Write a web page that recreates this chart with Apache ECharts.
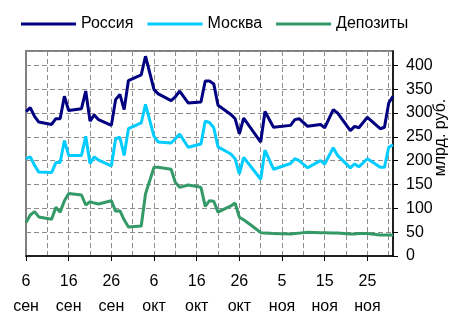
<!DOCTYPE html>
<html>
<head>
<meta charset="utf-8">
<script src="https://cdn.jsdelivr.net/npm/echarts@6/dist/echarts.min.js"></script>
<style>
  html, body { margin: 0; padding: 0; background: #ffffff; }
  #chart { width: 466px; height: 313px; }
</style>
</head>
<body>
<div id="chart"></div>
<script>
/* day offset from 6 sep */
var days = [0,1,2,3,6,7,8,9,10,13,14,15,16,17,20,21,22,23,24,27,28,30,31,34,35,36,38,41,42,43,44,45,48,49,50,51,53,55,56,58,62,63,64,66,69,70,72,73,76,77,78,80,83,84,85,86];
var russia = [303,311,293,281,276,288,288,335,305,309,346,283,296,286,274,328,339,307,368,380,419,349,340,326,334,346,321,323,367,367,361,316,297,288,256,289,264,239,303,270,274,286,288,272,276,269,307,300,263,272,269,291,267,270,321,335];
var moscow = [204,208,190,176,175,196,196,242,211,211,251,194,208,201,189,246,249,211,267,279,318,251,239,237,246,256,228,235,283,280,269,229,214,204,172,207,184,161,222,182,194,204,200,185,200,193,227,211,185,193,187,204,186,186,228,233];
var deposits = [70,86,93,82,77,102,92,116,131,128,107,114,111,109,116,94,95,76,61,63,130,186,186,182,154,144,149,144,104,116,115,92,105,111,81,76,63,49,48,47,46,47,48,50,49,49,48,48,46,46,47,47,44,44,44,44];

var tickLabels = ['6\nсен','16\nсен','26\nсен','6\nокт','16\nокт','26\nокт','5\nноя','15\nноя','25\nноя'];
var lastDay = 86;

var font = 'Liberation Sans, Arial, sans-serif';

function pairs(vals)
{
    var out = [];
    for (var i = 0; i < days.length; i++) {
        out.push([days[i], vals[i]]);
    }
    return out;
}

var cats = [];
for (var d = 0; d <= lastDay; d++) {
    cats.push(String(d));
}

var chart = document.getElementById('chart');
var myChart = echarts.init(chart);

var option = {
    animation: false,
    legend: {
        left: 16,
        top: 11,
        icon: 'rect',
        itemWidth: 55,
        itemHeight: 3,
        itemGap: 14,
        textStyle: { fontFamily: font, fontSize: 16, color: '#000' },
        data: ['Россия', 'Москва', 'Депозиты']
    },
    grid: {
        left: 26, right: 73, top: 51, bottom: 57,
        outerBoundsMode: 'none',
        containLabel: false,
        show: true,
        borderColor: '#808080',
        borderWidth: 2,
        backgroundColor: '#fff'
    },
    xAxis: {
        type: 'category',
        boundaryGap: false,
        data: cats,
        axisLine: { lineStyle: { color: '#000', width: 1.5 } },
        axisTick: {
            length: 5,
            interval: function (i) { return i % 10 === 0; },
            lineStyle: { color: '#000' }
        },
        axisLabel: {
            interval: function (i) { return i % 10 === 0; },
            formatter: function (v, i) { return tickLabels[i / 10] || ''; },
            fontFamily: font,
            fontSize: 16,
            color: '#000',
            lineHeight: 25,
            margin: 13
        },
        splitLine: {
            show: true,
            interval: function (i) { return i % 5 === 0 && i > 0 && i < lastDay; },
            lineStyle: { color: '#8c8c8c', type: [5, 3], width: 1 }
        }
    },
    yAxis: {
        type: 'value',
        position: 'right',
        min: 0,
        max: 430,
        interval: 50,
        name: 'млрд. руб.',
        nameLocation: 'middle',
        nameRotate: 90,
        nameGap: 40,
        nameMoveOverlap: false,
        nameTextStyle: { fontFamily: font, fontSize: 16, color: '#000', padding: [0, 0, 0, 32] },
        axisLine: { show: true, lineStyle: { color: '#000', width: 1.5 } },
        axisTick: { show: true, length: 5, lineStyle: { color: '#000' } },
        axisLabel: {
            showMaxLabel: false,
            fontFamily: font,
            fontSize: 16,
            color: '#000',
            margin: 13
        },
        splitLine: { lineStyle: { color: '#8c8c8c', type: [5, 3], width: 1 } }
    },
    series: [
        {
            name: 'Россия',
            type: 'line',
            showSymbol: false,
            lineStyle: { color: '#000080', width: 3 },
            itemStyle: { color: '#000080' },
            data: pairs(russia)
        },
        {
            name: 'Москва',
            type: 'line',
            showSymbol: false,
            lineStyle: { color: '#00ccff', width: 3 },
            itemStyle: { color: '#00ccff' },
            data: pairs(moscow)
        },
        {
            name: 'Депозиты',
            type: 'line',
            showSymbol: false,
            lineStyle: { color: '#339966', width: 3 },
            itemStyle: { color: '#339966' },
            data: pairs(deposits)
        }
    ]
};

myChart.setOption(option);
</script>
</body>
</html>
